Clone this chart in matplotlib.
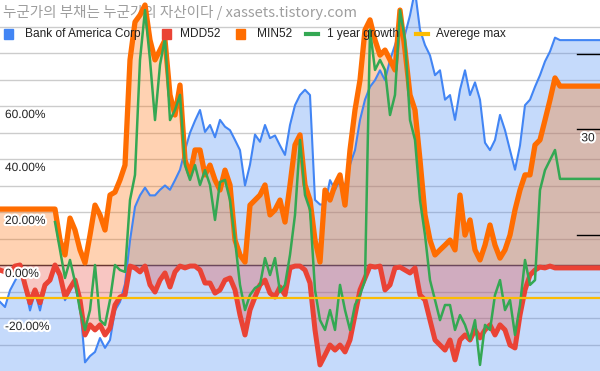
import numpy as np
import matplotlib
matplotlib.use("Agg")
import matplotlib.pyplot as plt
from matplotlib.transforms import blended_transform_factory as blend
import matplotlib.patheffects as pe
from matplotlib.patches import Rectangle
from matplotlib.lines import Line2D

# ---------------- data (one sample per time step) ----------------
bac_price = [15.5, 15.2, 16.2, 16.8, 17.4, 16.4, 15.0, 16.1, 15.0, 16.4,
             16.8, 17.8, 17.1, 15.6, 16.2, 16.8, 15.4, 12.3, 12.6, 12.8,
             13.5, 13.0, 13.4, 15.0, 15.5, 16.6, 19.6, 22.3, 23.3, 24.0,
             23.3, 23.3, 23.8, 24.2, 23.8, 24.7, 25.7, 27.7, 29.6, 31.0,
             32.3, 29.7, 30.5, 29.1, 31.1, 30.3, 29.9, 28.8, 27.7, 24.2,
             26.2, 29.4, 28.6, 30.5, 29.0, 29.3, 28.2, 27.2, 30.5, 32.9,
             34.2, 34.9, 34.2, 22.9, 22.5, 22.5, 24.7, 23.8, 24.7, 24.2,
             26.2, 27.7, 31.1, 33.6, 35.3, 36.2, 37.6, 36.2, 39.1, 41.4,
             43.9, 43.1, 46.4, 51.0, 43.9, 41.4, 39.8, 36.9, 37.6, 33.6,
             34.2, 31.1, 34.9, 37.6, 34.2, 35.9, 33.6, 28.5, 27.7, 28.8,
             31.7, 29.9, 27.7, 25.7, 28.2, 32.9, 33.6, 35.3, 36.9, 38.9,
             40.4, 42.6, 42.2, 42.2, 42.2, 42.2, 42.2, 42.2, 42.2, 42.2,
             42.2]

mdd52 = [-1.9, -2.6, -3.4, -0.4, 0.0, -7.5, -14.3, -9.4, -14.3, -7.5,
         -5.7, 0.0, -3.8, -12.1, -8.7, -5.7, -13.2, -26.4, -22.6, -24.5,
         -22.6, -26.4, -23.8, -15.1, -12.1, -11.3, -0.4, -1.1, -2.6, -0.4,
         -7.5, -10.2, -5.7, -3.0, -8.3, -2.6, -0.4, -1.1, -0.4, -0.4,
         -1.9, -6.8, -6.8, -10.6, -9.4, -5.7, -4.9, -9.4, -18.9, -26.4,
         -17.0, -12.1, -7.5, -5.7, -10.6, -12.1, -8.3, -11.3, -1.1, -0.4,
         -0.4, -1.9, -6.8, -24.5, -37.7, -34.0, -30.2, -32.1, -30.2, -32.8,
         -28.3, -18.9, -9.4, -4.9, -0.4, -0.8, -0.4, -9.4, -7.5, -1.1,
         -0.8, -1.9, -3.0, -1.1, -11.3, -13.2, -20.8, -28.3, -30.2, -32.1,
         -28.3, -35.8, -28.3, -26.4, -28.3, -24.5, -27.5, -24.5, -22.6, -26.4,
         -22.6, -24.5, -30.2, -31.3, -18.9, -9.4, -3.8, -1.9, -0.8, -1.1,
         -0.4, -1.1, -1.1, -1.1, -1.1, -1.1, -1.1, -1.1, -1.1, -1.1,
         -1.1]

min52 = [21.1, 21.1, 21.1, 21.1, 21.1, 21.1, 21.1, 21.1, 21.1, 21.1,
         21.1, 21.1, 9.4, 3.8, 17.7, 13.2, 5.7, 0.8, 11.3, 22.6,
         18.9, 13.2, 26.4, 27.5, 32.1, 37.7, 77.4, 91.7, 94.3, 98.1,
         84.9, 77.4, 81.1, 84.9, 64.2, 56.6, 67.9, 39.6, 34.0, 43.4,
         43.4, 34.0, 37.7, 32.1, 28.3, 35.8, 30.2, 9.4, 3.8, 1.1,
         22.6, 24.5, 26.4, 30.2, 18.9, 20.8, 24.5, 16.2, 30.2, 45.3,
         49.1, 30.2, 24.5, 9.4, 1.1, 28.3, 24.5, 30.2, 34.0, 22.6,
         43.4, 58.5, 69.8, 88.7, 92.5, 84.9, 79.2, 81.1, 77.4, 73.6,
         96.2, 81.1, 64.2, 58.5, 39.6, 18.9, 9.4, 3.8, 5.7, 7.5,
         9.4, 5.7, 26.4, 11.3, 17.0, 5.7, 1.9, 7.5, 15.1, 7.5,
         2.6, 5.7, 11.3, 20.8, 28.3, 34.0, 34.0, 45.3, 47.2, 54.7,
         62.3, 70.6, 67.5, 67.5, 67.5, 67.5, 67.5, 67.5, 67.5, 67.5,
         67.5]

nan = float("nan")
growth_1y = [nan, nan, nan, nan, nan, nan, nan, nan, nan, nan,
             nan, 16.2, 5.7, -4.9, 1.9, -6.4, -17.0, -24.5, -17.0, 0.0,
             -20.8, -22.6, -13.2, 0.0, -1.9, -2.6, 24.5, 34.0, 77.4, 96.2,
             77.4, 54.7, 75.5, 85.7, 54.7, 58.5, 64.2, 37.7, 32.1, 37.7,
             30.2, 35.8, 30.2, 17.0, 31.3, 32.1, 24.5, 9.4, -7.5, -17.0,
             -11.3, -8.7, -7.5, 2.6, -3.8, 2.6, -10.2, -7.5, 3.8, 18.9,
             47.2, 26.4, 20.8, -9.4, -20.8, -24.5, -17.0, -24.5, -7.5, -17.0,
             -24.5, -15.1, -11.3, -5.7, 88.7, 73.6, 77.4, 73.6, 56.6, 64.2,
             96.2, 84.9, 54.7, 47.2, 24.5, 11.3, -5.7, -13.2, -20.8, -15.1,
             -15.1, -24.5, -18.9, -22.6, -28.3, -20.8, -37.7, -22.6, -24.5, -11.3,
             -5.7, -17.0, -13.2, -26.4, -15.1, 1.9, -7.5, -5.7, 28.3, 35.8,
             39.6, 43.4, 32.5, 32.5, 32.5, 32.5, 32.5, 32.5, 32.5, 32.5,
             32.5]

average_max = -12.6

series_names = ["Bank of America Corp", "MDD52", "MIN52", "1 year growth", "Averege max"]
colors = ["#4285F4", "#EA4335", "#FF6D01", "#34A853", "#FBBC04"]
pct_ticks = [60, 40, 20, 0, -20]
pct_grid = [-30, -20, -10, 0, 10, 20, 30, 40, 50, 60, 70, 80, 90]
price_ticks = [20, 30, 40]
price_labels = ["", "30", ""]
title = "누군가의 부채는 누군가의 자산이다 / xassets.tistory.com"

t = np.arange(len(bac_price))

# ---------------- figure ----------------
W, H = 600, 371
fig = plt.figure(figsize=(W / 100, H / 100), dpi=100)
ax0 = fig.add_axes([0, 0, 1, 1])      # price fill
ax1 = ax0.twinx()                      # pct fills
ax2 = ax0.twinx()                      # price line
ax3 = ax0.twinx()                      # pct lines + labels

for a in (ax0, ax2):
    a.set_yscale("log")
    a.set_ylim(11.9, 49.2)
for a in (ax1, ax3):
    a.set_ylim(-40, 100)
for a in (ax0, ax1, ax2, ax3):
    a.set_xlim(t[0], t[-1])
    a.set_axis_off()

# gridlines (under all fills)
tr_grid = blend(ax0.transAxes, ax1.transData)
for g in pct_grid:
    ax0.plot([0, 1], [g, g], transform=tr_grid, color="#cccccc", lw=1.0, zorder=0)
ax0.plot([0, 1], [0, 0], transform=tr_grid, color="#333333", lw=1.0, zorder=0.5)

# fills
ax0.fill_between(t, bac_price, 5, color=colors[0], alpha=0.3, lw=0, zorder=1)
mdd = np.array(mdd52)
mn = np.array(min52)
ax1.fill_between(t, mdd, 0, color=colors[1], alpha=0.3, lw=0, zorder=1)
ax1.fill_between(t, mn, 0, color=colors[2], alpha=0.3, lw=0, zorder=2)

# lines
ax2.plot(t, bac_price, color=colors[0], lw=1.5, solid_joinstyle="round")
ax3.plot(t, mdd, color=colors[1], lw=3.6, solid_joinstyle="round", zorder=2)
ax3.plot(t, mn, color=colors[2], lw=3.8, solid_joinstyle="round", zorder=3)
ax3.plot(t, growth_1y, color=colors[3], lw=1.8, solid_joinstyle="round", zorder=4)
ax3.axhline(average_max, color=colors[4], lw=1.6, zorder=5)

# right axis ticks (log price)
tr_r = blend(ax3.transAxes, ax2.transData)
halo = [pe.withStroke(linewidth=3, foreground="white")]
for v, lab in zip(price_ticks, price_labels):
    ax3.plot([0.962, 1.0], [v, v], transform=tr_r, color="black", lw=1.0, zorder=6)
    if lab:
        ax3.annotate(lab, xy=(0.98, v), xycoords=tr_r, xytext=(0, -9),
                     textcoords="offset pixels", ha="center", va="center",
                     fontsize=8.6, family="Liberation Sans", color="#222222",
                     path_effects=halo, zorder=7)

# left axis labels
tr_l = blend(ax3.transAxes, ax3.transData)
for v in pct_ticks:
    ax3.annotate(f"{v:.2f}%", xy=(0, v), xycoords=tr_l, xytext=(5, -9),
                 textcoords="offset pixels", ha="left", va="center",
                 fontsize=8.6, family="Liberation Sans", color="#222222",
                 path_effects=halo, zorder=7)

# title (behind the data)
fig.text(3 / W, 1 - 12 / H, title, family=["Noto Sans CJK KR", "DejaVu Sans"],
         fontsize=10.5, color="#9e9e9e", ha="left", va="center", zorder=-1)

# legend (on top)
def fx(px):
    return px / W

def fy(py):
    return 1 - py / H

ly = 34
leg_items = [("box", 4, 25), ("box", 162, 180), ("box", 236, 257),
             ("line", 306, 327), ("line", 416, 436)]
for (kind, mx, tx), name, col in zip(leg_items, series_names, colors):
    if kind == "box":
        fig.add_artist(Rectangle((fx(mx), fy(ly + 5)), 9 / W, 10 / H,
                                 transform=fig.transFigure, color=col, zorder=8))
    else:
        fig.add_artist(Line2D([fx(mx), fx(mx + 12)], [fy(ly), fy(ly)],
                              transform=fig.transFigure, color=col, lw=3, zorder=8))
    fig.text(fx(tx), fy(ly), name, family="Liberation Sans", fontsize=8.6,
             color="#222222", ha="left", va="center", zorder=9)

fig.savefig("out.png", dpi=100)
